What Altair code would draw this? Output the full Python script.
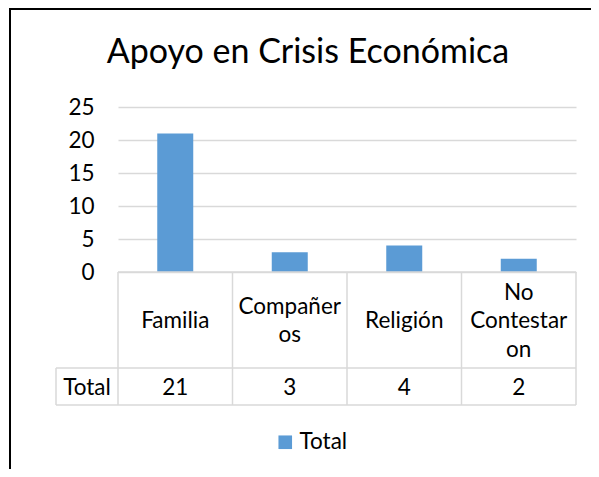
import altair as alt
import pandas as pd

title_text = "Apoyo en Crisis Económica"
categories = ["Familia", "Compañeros", "Religión", "No Contestaron"]
wrapped_labels = ["Familia", "Compañer\nos", "Religión", "No\nContestar\non"]
values = [21, 3, 4, 2]
series_name = "Total"
y_ticks = [0, 5, 10, 15, 20, 25]

FONT = "Lato"
FS = 22.5
TXT = "#000000"
BAR = "#5B9BD5"
GRID = "#D9D9D9"
W, H = 458, 165
ROW1_BOTTOM = 261
ROW2_BOTTOM = 298
HDR_LEFT = -62
ROW1_MID = 214
ROW2_MID = 281
LINE_H = 28.5

df = pd.DataFrame({"cat": categories, "label": wrapped_labels,
                   "value": values, "series": [series_name] * len(values)})
one = pd.DataFrame({"k": [0]})

# one row per label line, centred on the table row
line_rows = []
for c, lab in zip(categories, wrapped_labels):
    parts = lab.split("\n")
    n = len(parts)
    for i, p in enumerate(parts):
        line_rows.append({"cat": c, "line": p,
                          "line_y": ROW1_MID + (i - (n - 1) / 2) * LINE_H})
lines_df = pd.DataFrame(line_rows)

xenc = alt.X("cat:N", sort=categories, axis=None,
             scale=alt.Scale(paddingInner=0, paddingOuter=0))

bars = alt.Chart(df).mark_bar(size=36).encode(
    x=xenc,
    y=alt.Y("value:Q", scale=alt.Scale(domain=[0, 25]),
            axis=alt.Axis(values=y_ticks, grid=True, domain=False, ticks=False,
                          labelPadding=24, labelFontSize=FS, labelFont=FONT,
                          labelColor=TXT, gridColor=GRID, gridWidth=1.3,
                          title=None)),
    color=alt.Color("series:N", scale=alt.Scale(domain=[series_name], range=[BAR]),
                    legend=alt.Legend(orient="none", legendX=156, legendY=324,
                                      title=None, symbolType="square",
                                      symbolSize=185, symbolStrokeWidth=0,
                                      labelFont=FONT, labelFontSize=FS,
                                      labelColor=TXT, labelOffset=3, padding=0)),
)

vlines = alt.Chart(df).mark_rule(color=GRID, strokeWidth=1.5).encode(
    x=alt.X("cat:N", sort=categories, axis=None, bandPosition=0),
    y=alt.value(H), y2=alt.value(ROW2_BOTTOM))
rline = alt.Chart(one).mark_rule(color=GRID, strokeWidth=1.5).encode(
    x=alt.value(W), y=alt.value(H), y2=alt.value(ROW2_BOTTOM))
hdr_vline = alt.Chart(one).mark_rule(color=GRID, strokeWidth=1.5).encode(
    x=alt.value(HDR_LEFT), y=alt.value(ROW1_BOTTOM), y2=alt.value(ROW2_BOTTOM))
htop = alt.Chart(one).mark_rule(color=GRID, strokeWidth=1.5).encode(
    x=alt.value(0), x2=alt.value(W), y=alt.value(H))
hmid = alt.Chart(one).mark_rule(color=GRID, strokeWidth=1.5).encode(
    x=alt.value(HDR_LEFT), x2=alt.value(W), y=alt.value(ROW1_BOTTOM))
hbot = alt.Chart(one).mark_rule(color=GRID, strokeWidth=1.5).encode(
    x=alt.value(HDR_LEFT), x2=alt.value(W), y=alt.value(ROW2_BOTTOM))

cat_text = alt.Chart(lines_df).mark_text(font=FONT, fontSize=FS, color=TXT,
                                         baseline="middle", align="center").encode(
    x=alt.X("cat:N", sort=categories, axis=None),
    y=alt.Y("line_y:Q", scale=None, axis=None),
    text="line:N")
val_text = alt.Chart(df).mark_text(font=FONT, fontSize=FS, color=TXT,
                                   baseline="middle", align="center").encode(
    x=alt.X("cat:N", sort=categories, axis=None), y=alt.value(ROW2_MID),
    text="value:Q")
hdr_text = alt.Chart(one).mark_text(font=FONT, fontSize=FS, color=TXT,
                                    baseline="middle", align="center",
                                    text=series_name).encode(
    x=alt.value((HDR_LEFT) / 2), y=alt.value(ROW2_MID))

title = alt.Chart(one).mark_text(font=FONT, fontSize=34, color=TXT,
                                 baseline="alphabetic", align="center",
                                 text=title_text).encode(
    x=alt.value(190), y=alt.value(-44))

frame = alt.Chart(one).mark_rect(filled=False, stroke="black", strokeWidth=2).encode(
    x=alt.value(-108), x2=alt.value(700), y=alt.value(-98), y2=alt.value(700))

chart = alt.layer(bars, vlines, rline, hdr_vline, htop, hmid, hbot,
                  cat_text, val_text, hdr_text, title, frame).properties(
    width=W, height=H,
    padding={"left": 110, "top": 99, "right": 15, "bottom": 197},
    autosize=alt.AutoSizeParams(type="none"),
    background="white",
).configure_view(stroke=None)

chart.save("out.html", embed_options={"renderer": "svg", "actions": False})
